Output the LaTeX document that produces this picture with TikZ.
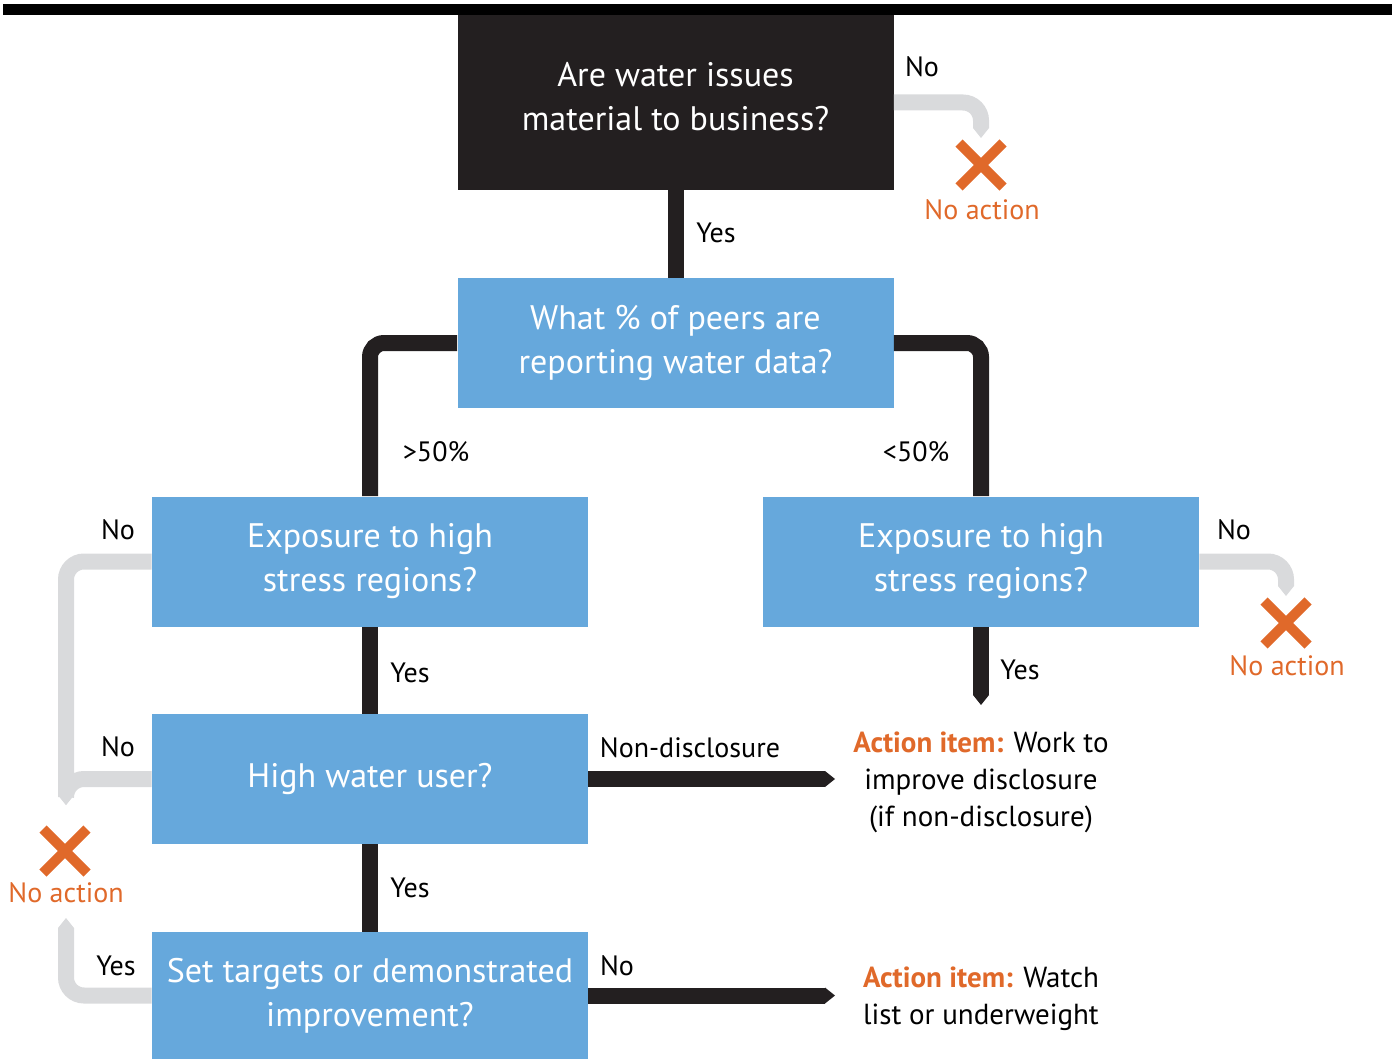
\documentclass[tikz,border=0pt]{standalone}
\usepackage{fontspec}
\setmainfont{PT Sans}
\usetikzlibrary{arrows.meta,shapes.misc}
\definecolor{boxblue}{HTML}{66A8DC}
\definecolor{boxblack}{HTML}{231F20}
\definecolor{linegray}{HTML}{D9DADC}
\definecolor{actorange}{HTML}{E0692A}

\begin{document}
\begin{tikzpicture}[x=0.5pt,y=-0.5pt,
    font=\fontsize{14}{17}\selectfont,
    qbox/.style={fill=boxblue, text=white, align=center, inner sep=0pt,
        minimum width=218pt, minimum height=65pt, font=\fontsize{17}{22}\selectfont},
    topbox/.style={qbox, fill=boxblack, minimum height=87.5pt, text depth=6pt},
    blackline/.style={boxblack, line width=8pt, rounded corners=7pt},
    blackarrow/.style={blackline, -{Triangle[length=5pt,width=8pt,line width=0pt]}},
    grayarrow/.style={linegray, line width=8pt, rounded corners=9pt,
        -{Triangle[length=5pt,width=8pt,line width=0pt]}},
    crossmark/.style={cross out, draw=actorange, line width=5pt, minimum size=17pt, inner sep=0pt},
    noact/.style={text=actorange, inner sep=0pt},
    actitem/.style={align=center, inner sep=0pt, font=\fontsize{14.5}{18.5}\selectfont},
    lab/.style={inner sep=0pt}]
        \useasboundingbox (0,0) rectangle (1395,1059);
        \fill [black] (3,4) rectangle (1392,15);
        \node [topbox] (water) at (675.5,102.5) {Are water issues\\material to business?};
        \node [qbox] (peers) at (675.5,343) {What \% of peers are\\reporting water data?};
        \node [qbox] (stressL) at (370,561.5) {Exposure to high\\stress regions?};
        \node [qbox] (stressR) at (981,561.5) {Exposure to high\\stress regions?};
        \node [qbox] (user) at (370,779) {High water user?};
        \node [qbox, minimum height=63.5pt] (targets) at (370,995.5) {Set targets or demonstrated\\improvement?};
        \node [crossmark] (xTop) at (981,165) {};
        \node [crossmark] (xRight) at (1286,623) {};
        \node [crossmark] (xLeft) at (65,851) {};
        \node [noact] (naTop) at (982,210) {No action};
        \node [noact] (naRight) at (1287,666) {No action};
        \node [noact] (naLeft) at (66,893) {No action};
        \node [actitem] (actDisc) at (981,782) {\textcolor{actorange}{\bfseries Action item:} Work to\\improve disclosure\\(if non-disclosure)};
        \node [actitem] (actWatch) at (981,998.5) {\textcolor{actorange}{\bfseries Action item:} Watch\\list or underweight};
        \coordinate (tipTop) at (981,138);
        \coordinate (tipRight) at (1286,596);
        \coordinate (tipLeftA) at (66,805);
        \coordinate (tipLeftB) at (66,918);
        \coordinate (tipYes) at (981,705);
        \coordinate (tipDisc) at (835,779);
        \coordinate (tipWatch) at (835,995.5);
        \draw [blackline] (water.south) -- (peers.north);
        \draw [blackline] (peers.west) -| (stressL.north);
        \draw [blackline] (peers.east) -| (stressR.north);
        \draw [blackline] (stressL.south) -- (user.north);
        \draw [blackline] (user.south) -- (targets.north);
        \draw [blackarrow] (stressR.south) -- (tipYes);
        \draw [blackarrow] (user.east) -- (tipDisc);
        \draw [blackarrow] (targets.east) -- (tipWatch);
        \draw [grayarrow] (water.east) -| (tipTop);
        \draw [grayarrow] (stressR.east) -| (tipRight);
        \draw [grayarrow] (stressL.west) -| (tipLeftA);
        \draw [grayarrow] (user.west) -| (tipLeftA);
        \draw [grayarrow] (targets.west) -| (tipLeftB);
        \node [lab] (lNoTop) at (922,67) {No};
        \node [lab] (lYesTop) at (716,233) {Yes};
        \node [lab] (lMore) at (436,452) {>50\%};
        \node [lab] (lLess) at (916,452) {<50\%};
        \node [lab] (lNoL) at (118,530) {No};
        \node [lab] (lNoR) at (1234,530) {No};
        \node [lab] (lYesL) at (410,673) {Yes};
        \node [lab] (lYesR) at (1020,670) {Yes};
        \node [lab] (lNoUser) at (118,747) {No};
        \node [lab] (lDisc) at (690,748) {Non-disclosure};
        \node [lab] (lYesUser) at (410,888) {Yes};
        \node [lab] (lYesSet) at (116,966) {Yes};
        \node [lab] (lNoSet) at (617,966) {No};
\end{tikzpicture}
\end{document}
